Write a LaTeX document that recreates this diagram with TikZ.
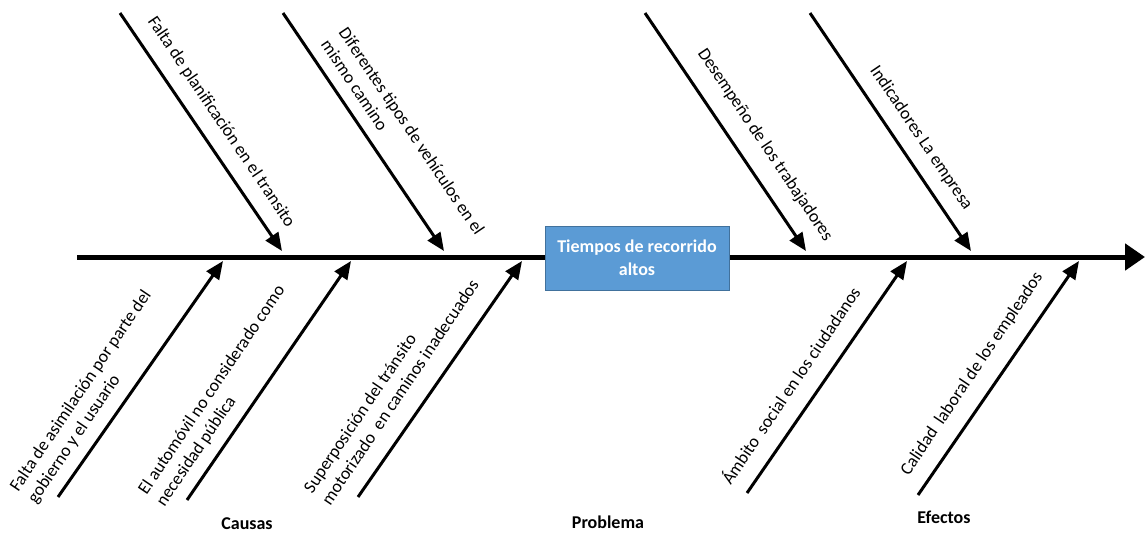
\documentclass[tikz,border=0pt]{standalone}
\usepackage{fontspec}
\setmainfont{Carlito}
\usetikzlibrary{arrows.meta}
\definecolor{boxfill}{HTML}{5B9BD5}
\definecolor{boxline}{HTML}{41719C}
\begin{document}
\begin{tikzpicture}[x=1pt,y=-1pt,
  spine/.style={line width=5pt,-{Triangle[length=20pt,width=26pt]}},
  bone/.style={line width=3pt,-{Triangle[length=18pt,width=15pt]}},
  downlabel/.style={rotate=-56,align=left,inner sep=0pt,font=\fontsize{17.7}{21.5}\selectfont},
  uplabel/.style={rotate=56,align=left,inner sep=0pt,font=\fontsize{17.7}{21.5}\selectfont},
  section/.style={inner sep=0pt,font=\fontsize{18}{20}\selectfont\bfseries},
  problem/.style={draw=boxline,fill=boxfill,line width=0.8pt,text=white,
    font=\fontsize{18}{23}\selectfont\bfseries,align=center,
    minimum width=184pt,minimum height=64pt,inner sep=0pt}]
\useasboundingbox (0,0) rectangle (1145,539);

% main spine
\coordinate (s0) at (77,257);
\coordinate (s1) at (1145,257);
\draw[spine] (s0) -- (s1);

% problem box
\node[problem] (prob) at (637,258) {Tiempos de recorrido\\altos};

% upper bones (pointing down to the spine)
\coordinate (ua1) at (120,13);  \coordinate (ub1) at (282,251);
\coordinate (ua2) at (283,13);  \coordinate (ub2) at (444,251);
\coordinate (ua3) at (645,13);  \coordinate (ub3) at (806,251);
\coordinate (ua4) at (810,13);  \coordinate (ub4) at (971,251);
\foreach \i in {1,...,4} \draw[bone] (ua\i) -- (ub\i);

% lower bones (pointing up to the spine)
\coordinate (la1) at (58,497);  \coordinate (lb1) at (223,261);
\coordinate (la2) at (187,500); \coordinate (lb2) at (351,261);
\coordinate (la3) at (358,497); \coordinate (lb3) at (522,261);
\coordinate (la4) at (747,493); \coordinate (lb4) at (907,261);
\coordinate (la5) at (918,495); \coordinate (lb5) at (1079,261);
\foreach \i in {1,...,5} \draw[bone] (la\i) -- (lb\i);

% labels of the upper bones
\node[downlabel] (t1) at (221,122) {Falta de planificación en el transito};
\node[downlabel] (t2) at (403,137) {Diferentes tipos de vehículos en el\\mismo camino};
\node[downlabel] (t3) at (765,145) {Desempeño de los trabajadores};
\node[downlabel] (t4) at (921,138) {Indicadores La empresa};

% labels of the lower bones
\node[uplabel] (d1) at (90,397) {Falta de asimilación por parte del\\gobierno y el usuario};
\node[uplabel] (d2) at (221,396) {El automóvil no considerado como\\necesidad pública};
\node[uplabel] (d3) at (391,386) {Superposición del tránsito\\motorizado\ \ en caminos inadecuados};
\node[uplabel] (d4) at (790,385) {Ámbito\ \ social en los ciudadanos};
\node[uplabel] (d5) at (972,374) {Calidad\ \ laboral de los empleados};

% section titles
\node[section] (causas) at (247,524) {Causas};
\node[section] (problema) at (608,522) {Problema};
\node[section] (efectos) at (944,517) {Efectos};
\end{tikzpicture}
\end{document}
